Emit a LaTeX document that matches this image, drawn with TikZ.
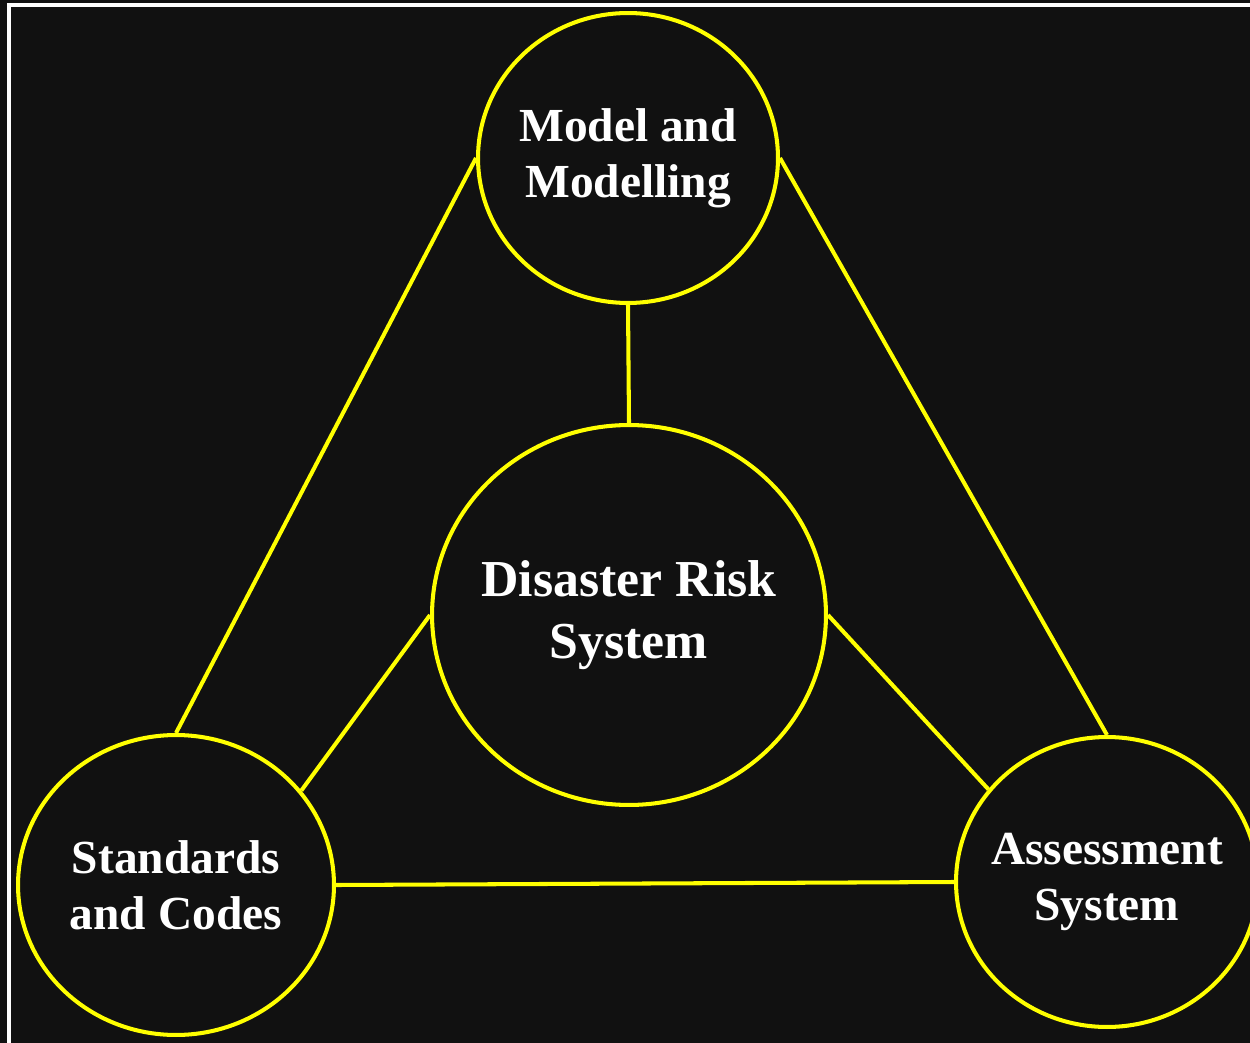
\documentclass[tikz,border=0pt]{standalone}
\usepackage{fontspec}
\setmainfont{Liberation Serif}
\usetikzlibrary{shapes.geometric,positioning,calc}
\definecolor{bgdark}{HTML}{111111}
\definecolor{ringyellow}{HTML}{FFFF00}
\tikzset{
	ring/.style={draw=ringyellow, line width=2.3pt, ellipse, inner ysep=0pt, inner xsep=-0.3cm, text=white, align=center, font=\fontsize{27}{32}\bfseries},
	link/.style={draw=ringyellow, line width=2.3pt}
}

\begin{document}
\begin{tikzpicture}[x=0.02cm, y=-0.02cm]
				\fill[bgdark] (0,0) rectangle (1250,1043);
				\useasboundingbox (0,0) rectangle (1250,1043);
				\draw[white, line width=2.3pt] (9,5) rectangle (1262,1055);
				%
				\node[ring, minimum width=6cm, minimum height=5.8cm] (model) at (628,158) {Model and\\Modelling};
				\node[ring, minimum width=7.88cm, minimum height=7.6cm, font=\fontsize{29.5}{35}\bfseries] (drs) at (629,615) {Disaster Risk\\System};
				\node[ring, minimum width=6.32cm, minimum height=6cm] (std) at (176,885) {Standards\\and Codes};
				\node[ring, minimum width=6.04cm, minimum height=5.8cm] (assess) at (1107,882) {Assessment\\System};
				%
				\draw[link] (model.south) -- (drs.north);
				\draw[link] (model.west) -- (std.north);
				\draw[link] (model.east) -- (assess.north);
				\draw[link] (drs.west) -- (std.37);
				\draw[link] (drs.east) -- (assess.142);
				\draw[link] (std.east) -- (assess.west);
			\end{tikzpicture}
\end{document}
